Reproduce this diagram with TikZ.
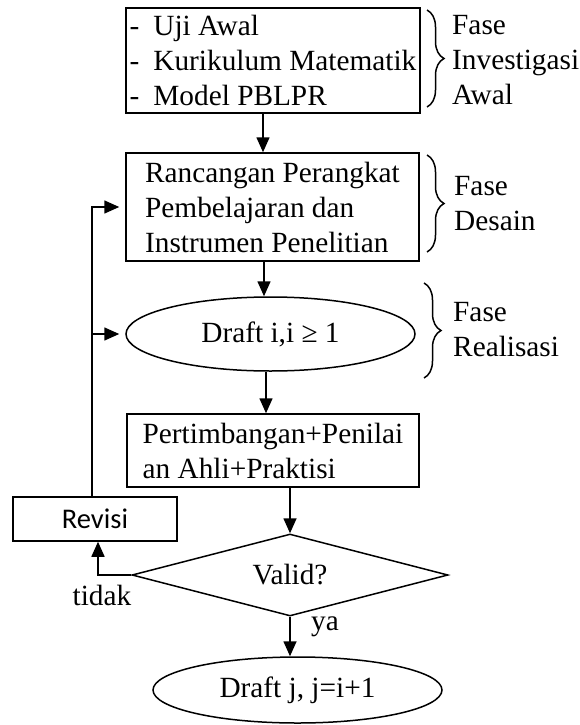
\documentclass[tikz,border=0pt]{standalone}
\usepackage{fontspec}
\setmainfont{Liberation Serif}
\newfontfamily\calib{Carlito}
\usetikzlibrary{shapes.geometric,arrows.meta,decorations.pathreplacing}
\begin{document}
\begin{tikzpicture}[x=1pt,y=-1pt,
  every node/.style={font=\fontsize{29.3}{35}\selectfont},
  box/.style={draw,line width=1.5pt,rectangle,inner sep=0pt,align=left},
  oval/.style={draw,line width=1.5pt,ellipse,inner sep=0pt},
  decide/.style={draw,line width=1.5pt,diamond,inner sep=0pt,aspect=3.85},
  lbl/.style={inner sep=0pt,align=left},
  arr/.style={line width=1.6pt,-{Triangle[length=15pt,width=13pt]}},
  brc/.style={line width=1.5pt,decorate,decoration={brace,amplitude=17pt,aspect=0.5}}]
\useasboundingbox (0,0) rectangle (580,725);
% nodes
\node[box,minimum width=294pt,minimum height=105pt] (b1) at (273,60.5)
  {-\hspace{14pt}Uji Awal\\-\hspace{14pt}Kurikulum Matematik\\-\hspace{14pt}Model PBLPR};
\node[box,minimum width=293pt,minimum height=108pt] (b2) at (272.5,207)
  {Rancangan Perangkat\\Pembelajaran dan\\Instrumen Penelitian};
\node[oval,minimum width=289pt,minimum height=74pt] (e1) at (270.5,334) {Draft i,i ≥ 1};
\node[box,minimum width=292pt,minimum height=73pt] (b3) at (273,450.5)
  {Pertimbangan+Penilai\\an Ahli+Praktisi};
\node[decide,minimum width=316pt,minimum height=82pt] (d) at (290,575) {Valid?};
\node[oval,minimum width=289pt,minimum height=66pt] (e2) at (297.5,690) {Draft j, j=i+1};
\node[box,minimum width=164pt,minimum height=44pt,font=\calib\fontsize{28.5}{32}\selectfont] (rev) at (95,519) {Revisi};
% labels
\node[lbl,anchor=west] (l1) at (452,60) {Fase\\Investigasi\\Awal};
\node[lbl,anchor=west] (l2) at (454,204) {Fase\\Desain};
\node[lbl,anchor=west] (l3) at (453,330) {Fase\\Realisasi};
\node[lbl] (tidak) at (102,595) {tidak};
\node[lbl] (ya) at (325,627) {ya};
% braces
\coordinate (br1a) at (427,10); \coordinate (br1b) at (427,107);
\coordinate (br2a) at (427,155); \coordinate (br2b) at (427,252);
\coordinate (br3a) at (424,283); \coordinate (br3b) at (424,378);
\draw[brc] (br1a) -- (br1b);
\draw[brc] (br2a) -- (br2b);
\draw[brc] (br3a) -- (br3b);
% connectors
\coordinate (c1) at (263,0);
\coordinate (c2) at (264,0);
\coordinate (c3) at (266,0);
\coordinate (fb) at (92,0);
\coordinate (fr) at (98,0);
\draw[arr] (b1.south -| c1) -- (b2.north -| c1);
\draw[arr] (b2.south -| c2) -- (e1.north -| c2);
\draw[arr] (e1.south -| c3) -- (b3.north -| c3);
\draw[arr] (b3.south -| d.north) -- (d.north);
\draw[arr] (d.south) -- (d.south |- e2.north);
\draw[arr] (d.west) -| (rev.south -| fr);
\draw[arr] (rev.north -| fb) |- ([xshift=-6pt]b2.west);
\draw[arr] (fb |- e1.west) -- ([xshift=-6pt]e1.west);
\end{tikzpicture}
\end{document}
